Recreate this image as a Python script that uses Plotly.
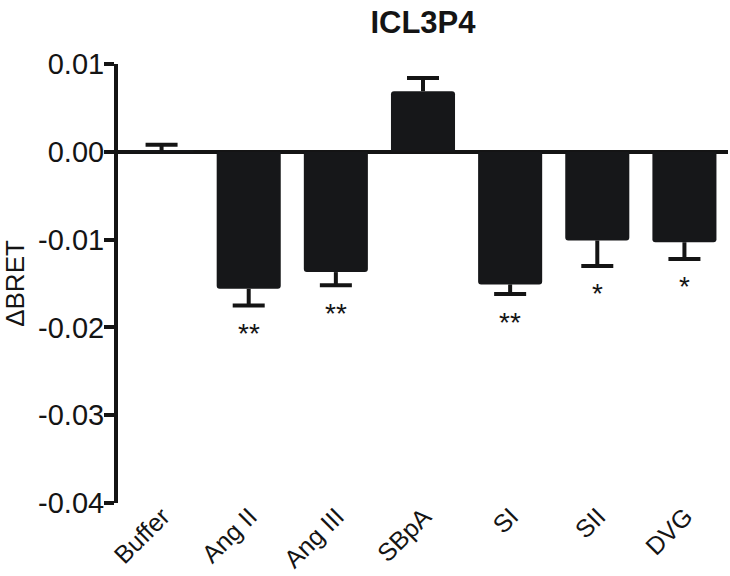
import plotly.graph_objects as go

categories = ["Buffer", "Ang II", "Ang III", "SBpA", "SI", "SII", "DVG"]
values = [0.0001, -0.0156, -0.0137, 0.0069, -0.0151, -0.0101, -0.0103]
errors = [0.0007, 0.0019, 0.0015, 0.0015, 0.0011, 0.0029, 0.0019]
stars = ["", "**", "**", "", "**", "*", "*"]
tick_vals = [0.01, 0.0, -0.01, -0.02, -0.03, -0.04]
tick_text = ["0.01", "0.00", "-0.01", "-0.02", "-0.03", "-0.04"]

BAR = "#161719"
INK = "#141414"
FONT = "Liberation Sans, Arial, sans-serif"

# error directed away from zero
err_plus = [e if v >= 0 else 0 for v, e in zip(values, errors)]
err_minus = [e if v < 0 else 0 for v, e in zip(values, errors)]
cap_y = [v + e if v >= 0 else v - e for v, e in zip(values, errors)]

fig = go.Figure()
fig.add_trace(go.Bar(x=categories, y=values, marker=dict(color=BAR, line=dict(width=0)),
                     showlegend=False, hoverinfo="skip"))
# stems
fig.add_trace(go.Scatter(x=categories, y=values, mode="markers",
                         marker=dict(size=0.1, opacity=0),
                         error_y=dict(type="data", symmetric=False, array=err_plus,
                                      arrayminus=err_minus, width=0, thickness=4, color=INK),
                         showlegend=False, hoverinfo="skip"))
# caps
fig.add_trace(go.Scatter(x=categories, y=cap_y, mode="markers",
                         marker=dict(size=0.1, opacity=0),
                         error_y=dict(type="data", symmetric=False, array=[0] * 7,
                                      arrayminus=[0] * 7, width=16, thickness=4, color=INK),
                         showlegend=False, hoverinfo="skip"))

for c, y, s in zip(categories, cap_y, stars):
    if s:
        fig.add_annotation(x=c, y=y, text=s, showarrow=False, yanchor="middle",
                           yshift=-28, font=dict(size=28, color=INK, family=FONT))

fig.update_layout(
    width=730, height=576,
    margin=dict(l=118, r=2, t=64, b=73),
    paper_bgcolor="white", plot_bgcolor="white",
    font=dict(family=FONT, color=INK, size=29),
    bargap=0.265,
    barcornerradius=3,
    title=dict(text="<b>ICL3P4</b>", x=0.5, xref="paper", xanchor="center",
               y=0.962, yref="container", yanchor="middle",
               font=dict(size=31, family=FONT, color=INK)),
    xaxis=dict(range=[-0.5, 6.5], showline=False, ticks="", tickangle=-45,
               showgrid=False, zeroline=False, tickfont=dict(size=25),
               automargin=False, ticklabelshift=1, ticklabelstandoff=-7),
    yaxis=dict(range=[-0.04, 0.01], tickvals=tick_vals, ticktext=tick_text,
               showline=True, linewidth=4, linecolor=INK, ticks="outside",
               ticklen=10, tickwidth=4, tickcolor=INK, showgrid=False,
               zeroline=True, zerolinewidth=4, zerolinecolor=INK,
               tickfont=dict(size=29), ticklabelstandoff=-6, automargin=False,
               title=dict(text="ΔBRET", font=dict(size=26), standoff=14)),
)

fig.write_html("out.html")
